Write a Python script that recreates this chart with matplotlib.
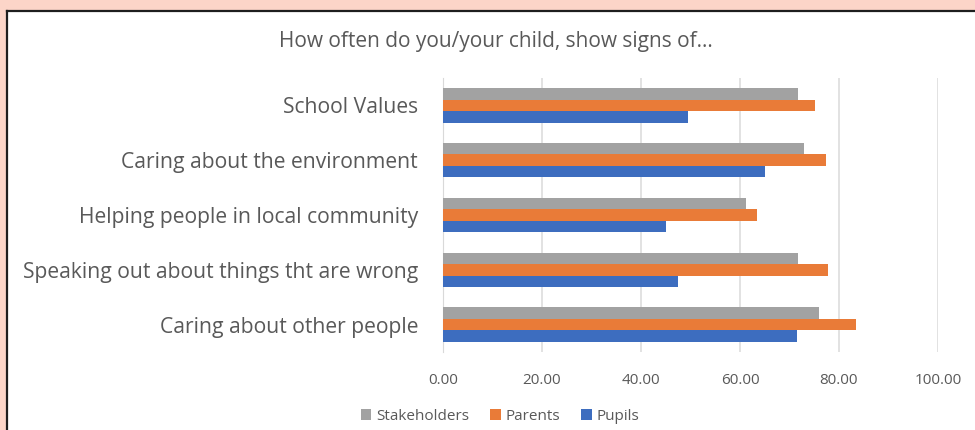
"""
Grouped horizontal bars: how often pupils / parents / stakeholders
report signs of each value (Excel-style survey chart).
"""

import numpy as np
import matplotlib.pyplot as plt
from matplotlib.patches import Rectangle
from matplotlib.lines import Line2D

CATEGORIES = ['School Values',
              'Caring about the environment',
              'Helping people in local community',
              'Speaking out about things tht are wrong',
              'Caring about other people']
STAKEHOLDERS = [71.7, 73.0, 61.2, 71.7, 76.0]
PARENTS      = [75.1, 77.3, 63.5, 77.8, 83.4]
PUPILS       = [49.4, 65.1, 45.0, 47.4, 71.5]
SERIES = ['Stakeholders', 'Parents', 'Pupils']
COLORS = ['#A2A2A2', '#E97B38', '#3D6DBF']
XTICKS = [0, 20, 40, 60, 80, 100]

TXT = '#595959'
PINK = '#FCD5C8'

plt.rcParams['font.family'] = ['Open Sans', 'DejaVu Sans']

W, H = 975, 430
fig = plt.figure(figsize=(W / 100, H / 100), dpi=100)
fig.patch.set_facecolor(PINK)

# white chart panel with dark top/left border
fig.patches.append(Rectangle((7 / W, 0), 1 - 7 / W, 1 - 11 / H,
                             transform=fig.transFigure, facecolor='white',
                             edgecolor='none', zorder=-5))
fig.lines.append(Line2D([7 / W, 7 / W], [0, 1 - 11 / H], transform=fig.transFigure,
                        color='#1E1E1E', lw=1.6, zorder=-4))
fig.lines.append(Line2D([7 / W, 1], [1 - 11 / H, 1 - 11 / H], transform=fig.transFigure,
                        color='#1E1E1E', lw=1.6, zorder=-4))

ax = fig.add_axes([443 / W, 78 / H, (938 - 443) / W, (352 - 78) / H])
ax.set_facecolor('none')
ax.set_zorder(2)

y = np.arange(len(CATEGORIES))
bh = 0.625 / 3
for i, (vals, col, name) in enumerate(zip([STAKEHOLDERS, PARENTS, PUPILS], COLORS, SERIES)):
    ax.barh(y + (i - 1) * bh, vals, height=bh, color=col, label=name, zorder=3)

ax.set_xlim(0, 100)
ax.set_ylim(len(CATEGORIES) - 0.5, -0.5)
ax.set_xticks(XTICKS)
ax.set_xticklabels([f'{v:.2f}' for v in XTICKS], fontsize=11, color=TXT)
ax.set_yticks(y)
ax.set_yticklabels(CATEGORIES, fontsize=15.2, color=TXT)
ax.tick_params(length=0)
ax.tick_params(axis='x', pad=15)
ax.tick_params(axis='y', pad=18)
ax.grid(axis='x', color='#DDDDDD', lw=1.2, zorder=0)
for s in ['top', 'right', 'bottom']:
    ax.spines[s].set_visible(False)
ax.spines['left'].set_color('#D9D9D9')

fig.text(496 / W, 1 - 41 / H, 'How often do you/your child, show signs of...',
         ha='center', va='center', fontsize=15, color=TXT)

fig.legend(loc='center', bbox_to_anchor=(500 / W, 1 - 416 / H), ncol=3,
           frameon=False, fontsize=11, labelcolor=TXT, handlelength=0.7,
           handleheight=0.7, handletextpad=0.3, columnspacing=1.4)

fig.savefig('out.png', dpi=100, facecolor=fig.get_facecolor())
